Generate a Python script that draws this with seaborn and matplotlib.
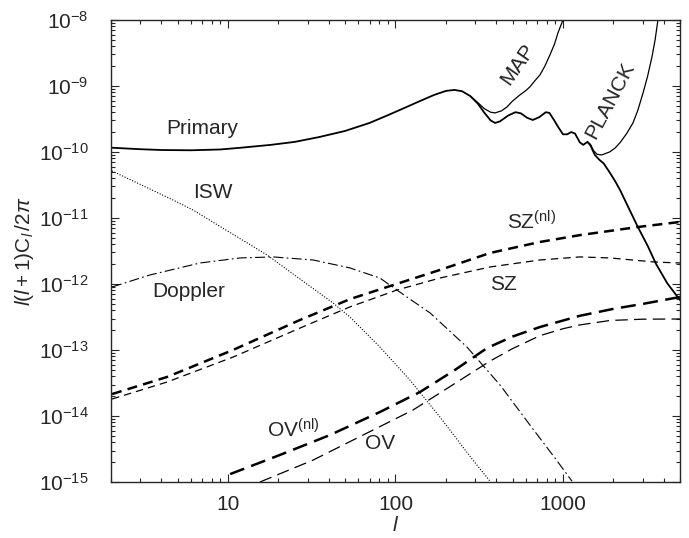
import matplotlib
matplotlib.use("Agg")
import numpy as np
import matplotlib.pyplot as plt
import seaborn as sns
from matplotlib.ticker import LogLocator, NullFormatter, FuncFormatter, FixedLocator

# multipole values and power l(l+1)C_l/2pi
primary_l = [2.0, 3.0, 4.0, 6.0, 9.0, 12, 18, 25, 35, 50, 70, 90, 110, 140, 170, 200, 225,
             250, 280, 310, 340, 370, 393, 420, 470, 520, 560, 610, 660, 720, 790, 830, 880,
             940, 1000, 1060, 1120, 1180, 1260, 1320, 1400, 1460, 1550, 1650, 1750, 1900,
             2050, 2200, 2450, 2800, 3200, 3600, 4200, 5000]
primary_cl = [1.16e-10, 1.10e-10, 1.07e-10, 1.06e-10, 1.09e-10, 1.16e-10, 1.28e-10, 1.42e-10,
              1.68e-10, 2.08e-10, 2.75e-10, 3.6e-10, 4.5e-10, 5.9e-10, 7.3e-10, 8.4e-10,
              8.7e-10, 8.3e-10, 7.0e-10, 5.4e-10, 3.9e-10, 3.0e-10, 2.75e-10, 2.9e-10,
              3.55e-10, 4.0e-10, 3.85e-10, 3.3e-10, 3.05e-10, 3.35e-10, 4.0e-10, 3.9e-10,
              3.1e-10, 2.35e-10, 1.85e-10, 1.85e-10, 2.0e-10, 1.9e-10, 1.4e-10, 1.28e-10,
              1.42e-10, 1.25e-10, 9.0e-11, 7.6e-11, 6.7e-11, 4.9e-11, 3.6e-11, 2.6e-11,
              1.47e-11, 7.3e-12, 3.8e-12, 2.0e-12, 1.02e-12, 5.7e-13]

map_l = [280, 310, 340, 370, 393, 430, 463, 500, 553, 600, 635, 680, 729, 780, 836, 890,
         933, 1000]
map_cl = [7.0e-10, 5.6e-10, 4.5e-10, 4.0e-10, 3.9e-10, 4.2e-10, 4.8e-10, 5.9e-10, 7.3e-10,
          8.5e-10, 9.7e-10, 1.2e-9, 1.47e-9, 2.0e-9, 2.95e-9, 4.3e-9, 6.35e-9, 1.0e-8]

planck_l = [1400, 1460, 1520, 1600, 1700, 1800, 1900, 2050, 2200, 2400, 2618, 2800, 3006,
            3200, 3399, 3550, 3690]
planck_cl = [1.42e-10, 1.3e-10, 1.05e-10, 9.2e-11, 9.0e-11, 9.5e-11, 1.0e-10, 1.15e-10,
             1.4e-10, 1.9e-10, 2.75e-10, 4.3e-10, 7.8e-10, 1.4e-9, 2.75e-9, 5.0e-9, 1.0e-8]

isw_l = [2.03, 4.70, 6.18, 17.1, 26.9, 42.4, 53.5, 80.7, 122, 184, 290, 367]
isw_cl = [5.15e-11, 1.87e-11, 1.32e-11, 2.75e-12, 1.19e-12, 5.15e-13, 3.16e-13, 1.11e-13,
          3.5e-14, 9.7e-15, 2.15e-15, 1.03e-15]

doppler_l = [2.03, 3.42, 6.81, 11.8, 18.6, 32.2, 53.5, 80.7, 117, 161, 267, 421, 635, 896, 1132]
doppler_cl = [9.0e-13, 1.37e-12, 2.08e-12, 2.48e-12, 2.57e-12, 2.31e-12, 1.75e-12, 1.23e-12,
              6.35e-13, 3.64e-13, 1.11e-13, 2.95e-14, 7.3e-15, 2.31e-15, 1.03e-15]

sznl_l = [2.03, 4.32, 10.7, 26.9, 53.5, 92.7, 184, 367, 729, 1263, 2805, 5000]
sznl_cl = [2.15e-14, 3.9e-14, 1.0e-13, 2.85e-13, 5.9e-13, 9.3e-13, 1.63e-12, 2.95e-12,
           4.33e-12, 5.5e-12, 7.3e-12, 8.7e-12]

sz_l = [2.03, 4.32, 10.7, 26.9, 53.5, 102, 184, 367, 729, 1263, 1910, 3542, 5000]
sz_cl = [1.81e-14, 3.27e-14, 7.8e-14, 2.15e-13, 4.5e-13, 8.1e-13, 1.23e-12, 1.81e-12,
         2.31e-12, 2.57e-12, 2.48e-12, 2.15e-12, 2.08e-12]

ovnl_l = [10.3, 20.4, 40.6, 80.7, 140, 226, 352, 500, 729, 1263, 2000, 3006, 5000]
ovnl_cl = [1.32e-15, 2.57e-15, 5.15e-15, 1.15e-14, 2.31e-14, 4.97e-14, 1.07e-13, 1.6e-13,
           2.23e-13, 3.3e-13, 4.2e-13, 5.0e-13, 6.35e-13]

ov_l = [15.5, 32.2, 64, 127, 184, 367, 500, 729, 1000, 1263, 1910, 3000, 5000]
ov_cl = [1.0e-15, 2.15e-15, 5.15e-15, 1.23e-14, 2.23e-14, 6.8e-14, 1.05e-13, 1.65e-13,
         2.1e-13, 2.4e-13, 2.8e-13, 2.93e-13, 2.95e-13]

x_ticks = [10, 100, 1000]
y_ticks = [1e-15, 1e-14, 1e-13, 1e-12, 1e-11, 1e-10, 1e-9, 1e-8]

sns.set_style("ticks")
plt.rcParams["font.family"] = ["Liberation Sans", "DejaVu Sans"]
plt.rcParams["mathtext.fontset"] = "custom"
plt.rcParams["mathtext.rm"] = "Liberation Sans"
plt.rcParams["mathtext.it"] = "Liberation Sans:italic"
plt.rcParams["mathtext.bf"] = "Liberation Sans:bold"

fig = plt.figure(figsize=(6.89, 5.38), dpi=100)
ax = fig.add_axes([0.161, 0.104, 0.826, 0.859])

curves = [
    (primary_l, primary_cl, dict(lw=1.3, linestyle="-")),
    (map_l, map_cl, dict(lw=0.9, linestyle="-")),
    (planck_l, planck_cl, dict(lw=0.9, linestyle="-")),
    (isw_l, isw_cl, dict(lw=0.8, linestyle=(0, (1, 1.5)))),
    (doppler_l, doppler_cl, dict(lw=0.8, linestyle=(0, (9, 3, 1.5, 3)))),
    (sznl_l, sznl_cl, dict(lw=1.8, linestyle=(0, (4, 2.5)))),
    (sz_l, sz_cl, dict(lw=0.9, linestyle=(0, (6, 4)))),
    (ovnl_l, ovnl_cl, dict(lw=1.8, linestyle=(0, (6, 3)))),
    (ov_l, ov_cl, dict(lw=0.9, linestyle=(0, (10, 5)))),
]
for xs, ys, style in curves:
    sns.lineplot(x=xs, y=ys, ax=ax, color="black", estimator=None, sort=False, **style)

ax.set_xscale("log")
ax.set_yscale("log")
ax.set_xlim(2, 5000)
ax.set_ylim(1e-15, 1e-8)

ax.xaxis.set_major_locator(FixedLocator(x_ticks))
ax.xaxis.set_minor_locator(LogLocator(base=10, subs=range(2, 10), numticks=20))
ax.xaxis.set_major_formatter(FuncFormatter(lambda v, _: f"{v:g}"))
ax.xaxis.set_minor_formatter(NullFormatter())
ax.yaxis.set_major_locator(FixedLocator(y_ticks))
ax.yaxis.set_minor_locator(LogLocator(base=10, subs=range(2, 10), numticks=40))
ax.yaxis.set_major_formatter(
    FuncFormatter(lambda v, _: r"$10^{%d}$" % int(round(np.log10(v)))))
ax.yaxis.set_minor_formatter(NullFormatter())
ax.tick_params(which="both", direction="in", top=True, right=True, labelsize=15, width=0.8)
ax.tick_params(which="major", length=6)
ax.tick_params(which="minor", length=3)
ax.tick_params(axis="x", which="major", pad=9)
ax.tick_params(axis="y", which="major", pad=16)
for s in ax.spines.values():
    s.set_linewidth(1.0)

ax.set_xlabel(r"$l$", fontsize=15, labelpad=2)
ax.set_ylabel(r"$l(l+1)\mathrm{C}_l\,/2\pi$", fontsize=15, labelpad=2)

fs = 15
ax.text(7.0, 2.3e-10, "Primary", fontsize=fs, ha="center", va="center")
ax.text(8.1, 2.4e-11, "ISW", fontsize=fs, ha="center", va="center")
ax.text(5.8, 7.8e-13, "Doppler", fontsize=fs, ha="center", va="center")
ax.text(650, 8.7e-12, r"SZ$^{\mathrm{(nl)}}$", fontsize=fs, ha="center", va="center")
ax.text(438, 9.7e-13, "SZ", fontsize=fs, ha="center", va="center")
ax.text(24.4, 6.2e-15, r"OV$^{\mathrm{(nl)}}$", fontsize=fs, ha="center", va="center")
ax.text(80.7, 3.9e-15, "OV", fontsize=fs, ha="center", va="center")
ax.text(538, 2.1e-9, "MAP", fontsize=fs, ha="center", va="center", rotation=55)
ax.text(1905, 6.1e-10, "PLANCK", fontsize=fs, ha="center", va="center", rotation=62)

fig.savefig("out.png", dpi=100)
